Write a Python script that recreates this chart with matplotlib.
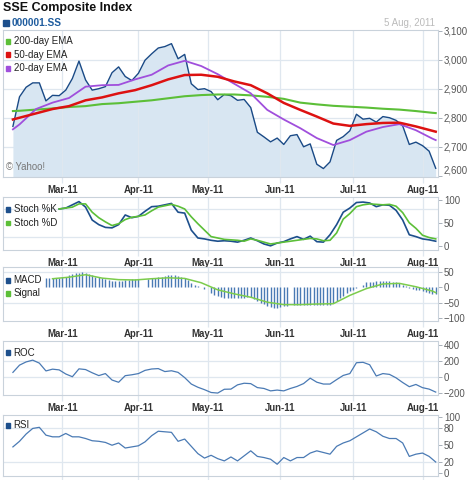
import numpy as np
import pandas as pd
import matplotlib
matplotlib.use('Agg')
import matplotlib.pyplot as plt
from matplotlib.patches import Rectangle
from matplotlib.ticker import FuncFormatter

plt.rcParams['font.family'] = ['Liberation Sans', 'DejaVu Sans']

W, H = 470, 480
nan = np.nan

# every other trading session, Feb 8 .. Aug 5 2011
dates = pd.bdate_range('2011-02-08', '2011-08-05')[::2]
# weekly samples for the smooth EMA / signal lines
weeks = (pd.to_datetime(['2011-02-08'])
         .append(pd.date_range('2011-02-10', '2011-08-04', freq='7D'))
         .append(pd.to_datetime(['2011-08-05'])))
# daily sessions for the MACD bars
macd_dates = pd.bdate_range('2011-02-22', '2011-08-05')

month_ticks = pd.to_datetime(['2011-03-01', '2011-04-01', '2011-05-02',
                              '2011-06-01', '2011-07-01', '2011-08-01'])
month_labels = ['Mar-11', 'Apr-11', 'May-11', 'Jun-11', 'Jul-11', 'Aug-11']

price = [2770, 2872, 2905, 2920, 2920, 2858, 2877, 2876,
         2895, 2935, 2995, 2930, 2895, 2900, 2907, 2955, 2975, 2942, 2928,
         2953, 2998, 3020, 3040, 3045, 3055, 3003, 3018, 2917, 2897, 2900,
         2890, 2862, 2880, 2876, 2860, 2863, 2835, 2750, 2734, 2717, 2730,
         2708, 2738, 2742, 2700, 2710, 2640, 2625, 2648, 2722, 2735, 2755,
         2812, 2795, 2798, 2785, 2804, 2800, 2791, 2772, 2708, 2716,
         2704, 2685, 2626]

ema200 = [2823, 2824, 2828, 2832, 2837, 2840, 2847, 2850, 2855, 2860, 2867, 2874, 2878, 2880,
          2880, 2877, 2872, 2865, 2852, 2846, 2841, 2838, 2835, 2831, 2828, 2823, 2817, 2816]
ema50 = [2794, 2800, 2815, 2830, 2840, 2860, 2870, 2884, 2895, 2912, 2932, 2947, 2948, 2941,
         2925, 2912, 2884, 2851, 2827, 2804, 2780, 2772, 2778, 2782, 2783, 2770, 2755, 2752]
ema20 = [2760, 2777, 2830, 2852, 2868, 2907, 2912, 2913, 2932, 2948, 2980, 2996, 2978, 2950,
         2917, 2884, 2827, 2794, 2764, 2730, 2706, 2723, 2752, 2768, 2778, 2757, 2728, 2723]

stoch_k = [nan, nan, nan, nan, nan, nan, nan, 80,
           82, 89, 96, 84, 56, 46, 40, 39, 46, 67, 61,
           64, 75, 85, 86, 89, 92, 73, 71, 34, 17, 15,
           12, 10, 11, 10, 8, 12, 17, 11, 4, 0, 6,
           9, 15, 20, 14, 21, 9, 8, 24, 46, 73, 82,
           94, 95, 93, 85, 89, 88, 77, 56, 24, 20,
           15, 13, 10]
stoch_d = [nan, nan, nan, nan, nan, nan, nan, 80,
           82, 84, 91, 91, 73, 61, 52, 44, 48, 57, 62,
           64, 67, 76, 84, 87, 90, 86, 80, 63, 48, 34,
           20, 17, 14, 13, 12, 10, 15, 12, 8, 4, 6,
           8, 10, 12, 14, 16, 15, 11, 12, 28, 58, 70,
           85, 89, 91, 90, 89, 90, 86, 72, 50, 38,
           23, 18, 15]

macd = [30, 30, 30, 30, 31,
        32, 35, 39, 42, 46, 48, 50, 48, 43, 39, 35, 32, 29, 27, 23, 21, 20, 21, 22, 23, 24, 26, 26,
        26, nan, nan, 28, 29, 30, 32, 35, 37, 39, 41, 40, 38, 35, 30, 25, 15, 8, 4, 0, -4,
        nan, -17, -24, -29, -32, -33, -34, -35, -35, -36, -35, -33, -31, -31, -38, -45, -50,
        -55, -61, -64, -66, -67,
        -63, -60, -59, nan, -57, -56, -56, -56, -56, -56, -56, -56, -56, -57, -58, -57, -52,
        -45, -36, -27, -19, -13,
        -7, -3, 2, 8, 16, 18, 19, 20, 20, 21, 21, 20, 19, 17, 13, 9, 4, -1, -5, -9, -10,
        -11, -15, -19, -21, -22]
signal = [nan, nan, nan, 28, 33, 41, 30, 25, 24, 28, 31, 29, 15, -8,
          -21, -32, -48, -56, -56, -54, -53, -26, -4, 11, 13, 2, -12, -17]

roc = [60, 150, 190, 212, 175, 78, 100, 91,
       40, 6, 104, 95, 55, 20, 45, -35, -63, 19, 30,
       45, 85, 102, 107, 70, 80, 60, -5, -85, -125, -155,
       -190, -197, -150, -148, -95, -75, -80, -129, -140, -170, -160,
       -170, -140, -115, -79, -12, -62, -85, -85, -30, 22, 45,
       180, 185, 155, 15, 45, 35, -8, -66, -118, -90,
       -130, -148, -185]

rsi = [47, 57, 70, 80, 82, 68, 65, 65,
       71, 65, 65, 62, 58, 57, 55, 50, 54, 45, 47,
       49, 56, 67, 75, 74, 73, 57, 61, 48, 35, 27,
       32, 26, 22, 29, 22, 31, 40, 30, 28, 25, 16,
       28, 22, 28, 28, 36, 40, 37, 34, 48, 54, 58,
       65, 72, 79, 74, 66, 62, 62, 54, 30, 34,
       36, 30, 20]

GRID = '#dfe7ef'
FRAME = '#c9d2db'
DARK = '#1d4f8c'
MID = '#4a7ab4'
GREEN = '#5cbf38'

# the chart spaces sessions evenly (weekends removed)
sessions = pd.bdate_range('2011-02-01', '2011-08-31')


def pos(d):
    return sessions.get_indexer(pd.DatetimeIndex(d))


fig = plt.figure(figsize=(W / 100, H / 100), dpi=100)


def fx(x):
    return x / W


def fy(y):
    return 1 - y / H


def panel(top, bottom, ylim, yticks, hgrid, fmt=None, xlabels=True):
    ax = fig.add_axes([fx(3), fy(bottom), fx(437.7) - fx(3), (bottom - top) / H])
    ax.set_xlim(2.0, 133.6)
    ax.set_ylim(*ylim)
    ax.yaxis.tick_right()
    ax.set_yticks(yticks)
    if fmt:
        ax.yaxis.set_major_formatter(FuncFormatter(fmt))
    ax.set_xticks(pos(month_ticks))
    if xlabels:
        ax.set_xticklabels(month_labels, fontweight='bold')
    else:
        ax.set_xticklabels([])
    ax.grid(axis='x', color=GRID, lw=0.9, zorder=0)
    for v in hgrid:
        ax.axhline(v, color=GRID, lw=0.9, zorder=0)
    for s in ax.spines.values():
        s.set_color(FRAME)
        s.set_linewidth(0.8)
    ax.tick_params(axis='y', length=3, width=0.6, color='#9aa4ae',
                   labelsize=6.9, labelcolor='#555555', pad=1.5)
    ax.tick_params(axis='x', length=4, width=0.9, color=GRID,
                   labelsize=6.9, labelcolor='#333333', pad=2)
    return ax


def legend(items, x=6):
    for label, color, y in items:
        fig.patches.append(Rectangle((fx(x), fy(y + 2.5)), 4 / W, 5 / H,
                                     transform=fig.transFigure, color=color))
        fig.text(fx(x + 7.5), fy(y), label, fontsize=7, color='#222222', va='center')


# header
fig.text(fx(3), fy(7.5), 'SSE Composite Index', fontsize=9, fontweight='bold',
         color='#111111', va='center')
fig.patches.append(Rectangle((fx(3), fy(25.5)), 5.5 / W, 6 / H,
                             transform=fig.transFigure, color=DARK))
fig.text(fx(11.5), fy(22.5), '000001.SS', fontsize=7.3, fontweight='bold',
         color='#1f5c9e', va='center')
fig.text(fx(435), fy(22.5), '5 Aug, 2011', fontsize=7, color='#bbbbbb',
         va='center', ha='right')

xd = pos(dates)
xw = pos(weeks)

# price panel
ax1 = panel(30, 177, (2596, 3102), [2600, 2700, 2800, 2900, 3000, 3100],
            [2700, 2800, 2900, 3000], fmt=lambda v, p: f'{v:,.0f}')
ax1.fill_between(xd, price, 2500, color='#d8e6f2', lw=0, zorder=1)
ax1.plot(xd, price, color='#1a4a86', lw=1.0, zorder=2)
ax1.plot(xw, ema200, color=GREEN, lw=1.5, zorder=3)
ax1.plot(xw, ema20, color='#a04fdc', lw=1.3, zorder=3)
ax1.plot(xw, ema50, color='#dd1111', lw=1.8, zorder=4)
ax1.get_yticklabels()[0].set_va('bottom')
legend([('200-day EMA', GREEN, 41), ('50-day EMA', '#dd1111', 54.5),
        ('20-day EMA', '#a04fdc', 68)])
fig.text(fx(6), fy(167), '\u00a9 Yahoo!', fontsize=6.9, color='#777777', va='center')

# stochastics
ax2 = panel(197, 249.5, (-8, 106), [0, 50, 100], [20, 80])
ax2.plot(xd, stoch_k, color=DARK, lw=1.2, zorder=3)
ax2.plot(xd, stoch_d, color=GREEN, lw=1.2, zorder=3)
legend([('Stoch %K', DARK, 209.5), ('Stoch %D', GREEN, 223)])

# MACD
ax3 = panel(267, 321, (-109, 66), [-100, -50, 0, 50], [-50, 50])
m = np.array(macd, dtype=float)
ok = ~np.isnan(m)
ax3.vlines(pos(macd_dates)[ok], 0, m[ok], color=MID, lw=1.0, zorder=2)
ax3.plot(xw, signal, color='#7ccc4c', lw=1.1, zorder=3)
legend([('MACD', DARK, 280), ('Signal', GREEN, 293.5)])

# ROC
ax4 = panel(341, 394.5, (-215, 450), [-200, 0, 200, 400], [0, 200])
ax4.plot(xd, roc, color=MID, lw=0.9, zorder=3)
legend([('ROC', DARK, 352.5)])

# RSI
ax5 = panel(415, 476, (-5, 104), [0, 20, 50, 80, 100], [20, 80], xlabels=False)
ax5.plot(xd, rsi, color=MID, lw=0.9, zorder=3)
legend([('RSI', DARK, 425.5)])

fig.savefig('out.png', dpi=100)
